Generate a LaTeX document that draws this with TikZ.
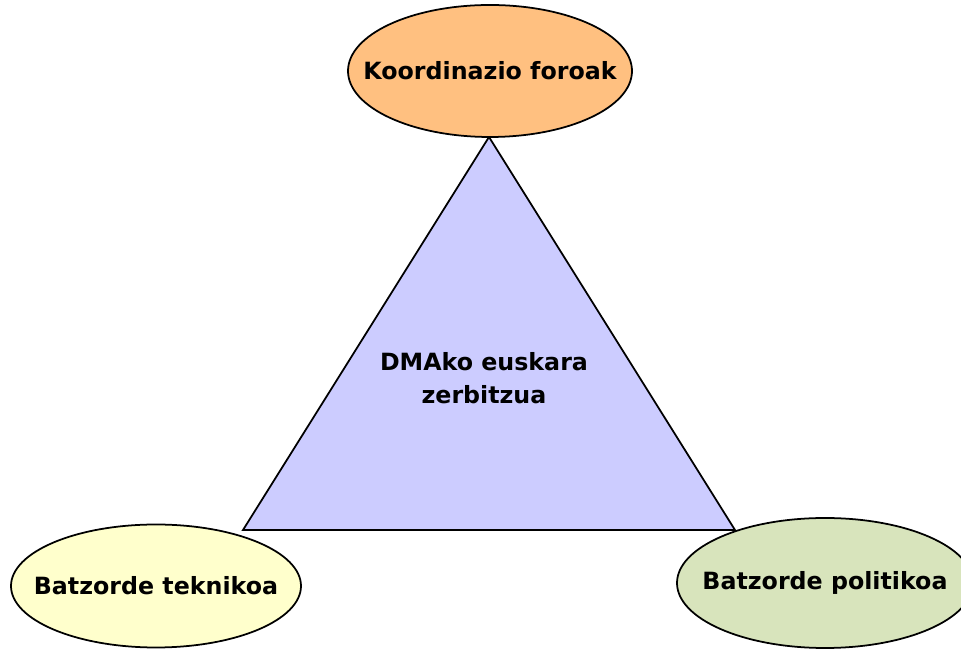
\documentclass[tikz,border=0pt]{standalone}
\usepackage{fontspec}
\setmainfont{DejaVu Sans}
\usepackage{tikz}
\usetikzlibrary{shapes.geometric}
\usepackage{xcolor}
\definecolor{foroorange}{HTML}{FFC080}
\definecolor{dmalila}{HTML}{CCCCFF}
\definecolor{teknikoyellow}{HTML}{FFFFCC}
\definecolor{politikogreen}{HTML}{D8E4BC}
\tikzset{%
	every organ/.style={
		ellipse,
		draw,
		line width=1pt,
		inner xsep=-1.5cm,
		inner ysep=0pt,
		font=\bfseries\fontsize{13.5}{16}\selectfont
	},
}

\begin{document}
\begin{tikzpicture}
			\useasboundingbox (0,0) rectangle (19.22,13.02);
			% Draw the triangle
			\coordinate (apex) at (9.78,10.28);
			\coordinate (left) at (4.86,2.42);
			\coordinate (right) at (14.70,2.42);
			\draw[line width=1pt, fill=dmalila] (apex) -- (left) -- (right) -- cycle;
			\node[font=\bfseries\fontsize{13.5}{18.5}\selectfont, align=center] (dma) at (9.68,5.46) {DMAko euskara\\zerbitzua};
			
			% Draw the ellipses
			\node[every organ, fill=foroorange, minimum width=5.68cm, minimum height=2.64cm] (foro) at (9.80,11.6) {Koordinazio foroak};
			\node[every organ, fill=teknikoyellow, minimum width=5.8cm, minimum height=2.46cm] (teknikoa) at (3.12,1.3) {Batzorde teknikoa};
			\node[every organ, fill=politikogreen, minimum width=5.92cm, minimum height=2.6cm] (politikoa) at (16.5,1.36) {Batzorde politikoa};
		\end{tikzpicture}
\end{document}
